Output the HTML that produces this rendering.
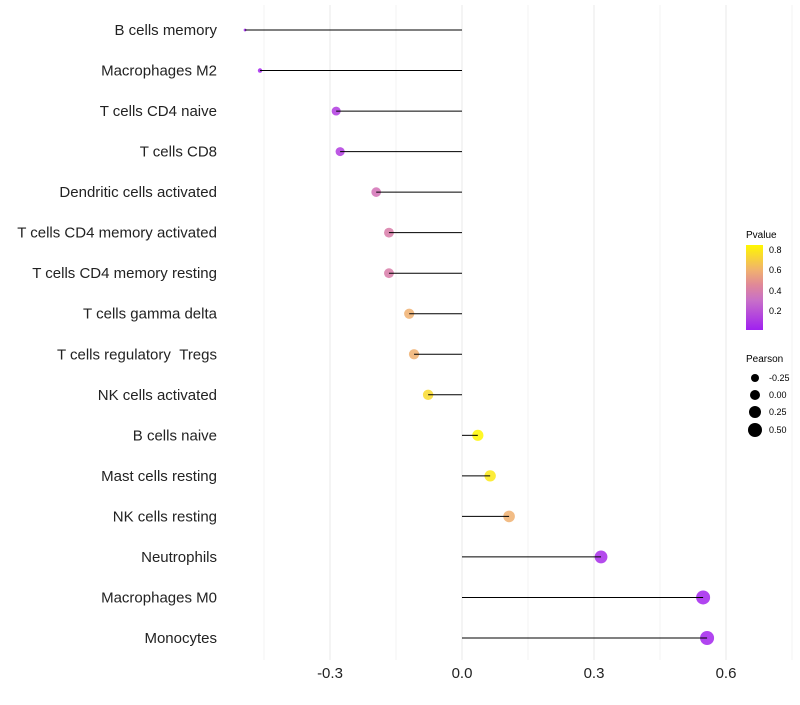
<!DOCTYPE html>
<html><head><meta charset="utf-8"><style>
body{margin:0;background:#fff;font-family:"Liberation Sans",sans-serif;}
</style></head><body>
<svg id="chart" width="800" height="700" xmlns="http://www.w3.org/2000/svg">
<defs><linearGradient id="pg" x1="0" y1="1" x2="0" y2="0">
<stop offset="0" stop-color="#A020F0"/><stop offset="0.35" stop-color="#C870C8"/><stop offset="0.53" stop-color="#E08898"/><stop offset="0.7" stop-color="#F0B070"/><stop offset="1" stop-color="#FFF700"/></linearGradient></defs>
<g id="grid"></g><g id="marks"></g><g id="labels"></g>
<g font-size="9">
<text x="746" y="238" font-size="10">Pvalue</text>
<rect x="746" y="245" width="17" height="85" fill="url(#pg)"/>
<text x="769" y="253">0.8</text><text x="769" y="273">0.6</text><text x="769" y="294">0.4</text><text x="769" y="314">0.2</text>
</g>
<g font-size="9">
<text x="746" y="362" font-size="10">Pearson</text>
<circle cx="755" cy="378" r="4"/><text x="769" y="381">-0.25</text>
<circle cx="755" cy="395" r="5"/><text x="769" y="398">0.00</text>
<circle cx="755" cy="412" r="6"/><text x="769" y="415">0.25</text>
<circle cx="755" cy="430" r="7"/><text x="769" y="433">0.50</text>
</g>
</svg>
<script>
const categories=["B cells memory","Macrophages M2","T cells CD4 naive","T cells CD8","Dendritic cells activated","T cells CD4 memory activated","T cells CD4 memory resting","T cells gamma delta","T cells regulatory\u00a0\u00a0Tregs","NK cells activated","B cells naive","Mast cells resting","NK cells resting","Neutrophils","Macrophages M0","Monocytes"];
const pearson=[-0.493,-0.459,-0.286,-0.277,-0.195,-0.166,-0.166,-0.120,-0.109,-0.077,0.036,0.064,0.107,0.316,0.548,0.557];
const pvalues=[0.01,0.02,0.12,0.13,0.36,0.4,0.4,0.6,0.6,0.75,0.85,0.8,0.6,0.05,0.02,0.02];
const ticks=[-0.3,0.0,0.3,0.6];
const NS="http://www.w3.org/2000/svg";
const xS=v=>462+v*440;
const yS=i=>30+i*(608/15);
function rS(v){const a=v>=-0.29?30+34.5*v:2+88*(v+0.493);return Math.sqrt(Math.max(2,a));}
function hex(c){return [parseInt(c.slice(1,3),16),parseInt(c.slice(3,5),16),parseInt(c.slice(5,7),16)];}
const stops=[[0,hex("#A020F0")],[0.3,hex("#C860C8")],[0.45,hex("#E08898")],[0.6,hex("#F0B070")],[0.85,hex("#FFF700")]];
function col(p){p=Math.max(0,Math.min(0.85,p));let k=0;while(k<stops.length-2&&p>stops[k+1][0])k++;const a=stops[k],b=stops[k+1];
const t=(p-a[0])/(b[0]-a[0]);return "rgb("+a[1].map((c,j)=>Math.round(c+(b[1][j]-c)*t)).join(",")+")";}
function mk(tag,attrs,parent){const e=document.createElementNS(NS,tag);for(const k in attrs)e.setAttribute(k,attrs[k]);document.getElementById(parent).appendChild(e);return e;}
for(let i=-3;i<=5;i++){
 const v=i*0.15;
 const g=mk("line",{x1:xS(v),x2:xS(v),y1:5,y2:660,stroke:"#ebebeb","stroke-width":i%2===0?1.1:0.6},"grid");
 
 
}
ticks.forEach(t=>{
 const e=mk("text",{x:xS(t),y:678,"text-anchor":"middle","font-size":"15",fill:"#222"},"labels");e.textContent=t.toFixed(1);
 
 
});
categories.forEach((c,i)=>{
 const y=yS(i);
 const p=mk("circle",{cx:xS(pearson[i]),cy:y,r:rS(pearson[i]),fill:col(pvalues[i]),"fill-opacity":0.85},"marks");
 
 
 const l=mk("line",{x1:xS(0),x2:xS(pearson[i]),y1:y,y2:y,stroke:"#000","stroke-width":1},"marks");
 
 
 const t=mk("text",{x:217,y:y+5,"text-anchor":"end","font-size":"15",fill:"#222"},"labels");t.textContent=c;
 
 
});
</script>
</body></html>
